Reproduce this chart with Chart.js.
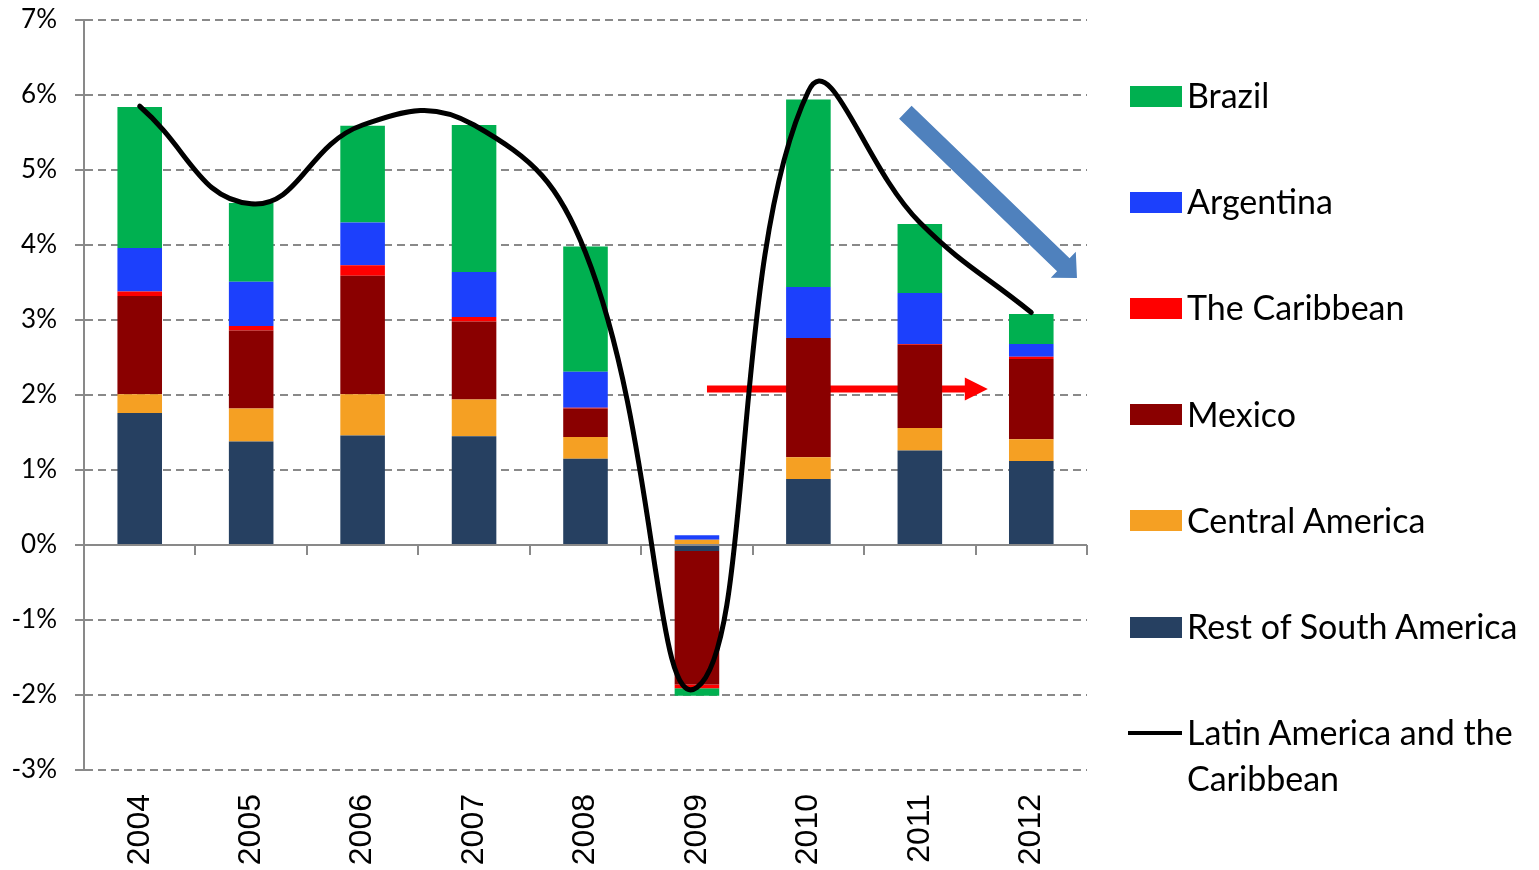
<!DOCTYPE html>
<html>
<head>
<meta charset="utf-8">
<script src="https://cdn.jsdelivr.net/npm/chart.js@4/dist/chart.umd.min.js"></script>
<style>
html,body{margin:0;padding:0;background:#fff;}
#wrap{position:relative;width:1539px;height:870px;overflow:hidden;}
#c{position:absolute;left:0;top:0;}
.lgm{position:absolute;}
.lgt{position:absolute;font-family:Lato,"Open Sans",sans-serif;color:#000;line-height:46px;}
</style>
</head>
<body>
<div id="wrap"><canvas id="c" width="1539" height="870"></canvas><div id="legend"></div></div>
<script>
// ---- data (percent contributions to growth) ----
const years = ['2004','2005','2006','2007','2008','2009','2010','2011','2012'];
const restOfSouthAmerica = [1.76, 1.38, 1.46, 1.45, 1.15, -0.08, 0.88, 1.26, 1.12];
const centralAmerica     = [0.25, 0.44, 0.55, 0.49, 0.29,  0.07, 0.29, 0.30, 0.29];
const mexico             = [1.31, 1.04, 1.58, 1.04, 0.38, -1.78, 1.59, 1.11, 1.07];
const theCaribbean       = [0.06, 0.06, 0.14, 0.06, 0.01, -0.05, 0.00, 0.01, 0.03];
const argentina          = [0.58, 0.59, 0.57, 0.60, 0.48,  0.06, 0.68, 0.68, 0.17];
const brazil             = [1.88, 1.05, 1.29, 1.96, 1.67, -0.10, 2.50, 0.92, 0.40];
const latinAmerica       = [5.85, 4.55, 5.60, 5.60, 3.90, -1.90, 6.05, 4.30, 3.10];
const yTickValues        = [-3, -2, -1, 0, 1, 2, 3, 4, 5, 6, 7];

// annotation arrows, in data coordinates (category index, percent)
const redArrow  = {from: [5.09, 2.08], to: [7.61, 2.08]};
const blueArrow = {from: [6.87, 5.77], to: [8.41, 3.56]};

const C = {
  brazil:'#00b050', argentina:'#1c40fc', caribbean:'#ff0000', mexico:'#8a0000',
  central:'#f5a023', rest:'#264061', grid:'#898989', blueArrow:'#4f81bd', redArrow:'#ff0000'
};

function bar(label, data, color){
  return {type:'bar', label, data, backgroundColor:color, borderWidth:0, order:1,
          categoryPercentage:0.8, barPercentage:0.5};
}

const datasets = [
  bar('Rest of South America', restOfSouthAmerica, C.rest),
  bar('Central America', centralAmerica, C.central),
  bar('Mexico', mexico, C.mexico),
  bar('The Caribbean', theCaribbean, C.caribbean),
  bar('Argentina', argentina, C.argentina),
  bar('Brazil', brazil, C.brazil),
  {type:'line', label:'Latin America and the Caribbean', data:latinAmerica,
   borderColor:'#000', borderWidth:5, pointRadius:0, tension:0.45, fill:false, order:0,
   borderCapStyle:'round', borderJoinStyle:'round'}
];

function drawArrow(ctx, x0, y0, x1, y1, shaft, headW, headL, color){
  const dx = x1-x0, dy = y1-y0, len = Math.hypot(dx,dy);
  const ux = dx/len, uy = dy/len, nx = -uy, ny = ux;
  const bx = x1 - ux*headL, by = y1 - uy*headL;
  ctx.save();
  ctx.fillStyle = color;
  ctx.beginPath();
  ctx.moveTo(x0 + nx*shaft/2, y0 + ny*shaft/2);
  ctx.lineTo(bx + nx*shaft/2, by + ny*shaft/2);
  ctx.lineTo(bx + nx*headW/2, by + ny*headW/2);
  ctx.lineTo(x1, y1);
  ctx.lineTo(bx - nx*headW/2, by - ny*headW/2);
  ctx.lineTo(bx - nx*shaft/2, by - ny*shaft/2);
  ctx.lineTo(x0 - nx*shaft/2, y0 - ny*shaft/2);
  ctx.closePath();
  ctx.fill();
  ctx.restore();
}

const decor = {
  id:'decor',
  beforeDatasetsDraw(chart){
    const {ctx, scales:{x, y}, chartArea:a} = chart;
    // category axis at zero, with tick marks between categories
    const y0 = y.getPixelForValue(0);
    ctx.save();
    ctx.strokeStyle = C.grid; ctx.lineWidth = 2; ctx.setLineDash([]);
    ctx.beginPath(); ctx.moveTo(a.left, y0); ctx.lineTo(a.right, y0); ctx.stroke();
    for (let i = 1; i <= years.length; i++){
      const px = Math.round(x.getPixelForValue(i - 0.5));
      ctx.beginPath(); ctx.moveTo(px, y0); ctx.lineTo(px, y0 + 10); ctx.stroke();
    }
    ctx.restore();
    const p = (v) => [x.getPixelForValue(v[0]), y.getPixelForValue(v[1])];
    const [r0x, r0y] = p(redArrow.from), [r1x, r1y] = p(redArrow.to);
    drawArrow(ctx, r0x, r0y, r1x, r1y, 7, 23, 23, C.redArrow);
    const [b0x, b0y] = p(blueArrow.from), [b1x, b1y] = p(blueArrow.to);
    drawArrow(ctx, b0x, b0y, b1x, b1y, 18, 36, 19, C.blueArrow);
  }
};

const chart = new Chart(document.getElementById('c'), {
  data:{labels:years, datasets},
  options:{
    responsive:false, animation:false,
    layout:{padding:{left:0, top:20, right:452, bottom:0}},
    plugins:{legend:{display:false}, tooltip:{enabled:false}},
    scales:{
      x:{type:'category', stacked:true, offset:true,
         grid:{display:false, drawTicks:false}, border:{display:false},
         ticks:{autoSkip:false, minRotation:90, maxRotation:90, padding:24,
                color:'#000', font:{family:'"Liberation Sans", Arial, sans-serif', size:32}},
         afterFit(s){ s.height = 100; s.paddingLeft = 0; s.paddingRight = 0; }},
      y:{stacked:true, min:-3, max:7,
         afterBuildTicks(s){ s.ticks = yTickValues.map(v => ({value:v})); },
         grid:{color:C.grid, lineWidth:2, tickLength:9, tickColor:C.grid},
         border:{display:true, color:C.grid, width:2, dash:[8,5]},
         ticks:{padding:18, color:'#000', callback:v => v + '%',
                font:{family:'Lato, sans-serif', size:26}},
         afterFit(s){ s.width = 84; s.paddingTop = 0; s.paddingBottom = 0; }}
    }
  },
  plugins:[decor]
});

// ---- HTML legend built from the chart's datasets ----
(function(){
  const order = ['Brazil','Argentina','The Caribbean','Mexico','Central America','Rest of South America','Latin America and the Caribbean'];
  const fam = 'Lato';
  const mc = document.createElement('canvas').getContext('2d');
  mc.font = '100px ' + fam;
  const fontSize = Math.round(100 * 332 / mc.measureText('Rest of South America').width * 10) / 10;
  const lg = document.getElementById('legend');
  order.forEach((name, i) => {
    const ds = chart.data.datasets.find(d => d.label === name);
    const cy = 96 + i * 106.2;
    const m = document.createElement('div');
    m.className = 'lgm';
    if (ds.type === 'line'){
      Object.assign(m.style, {left:'1128px', top:(cy-2)+'px', width:'54px', height:'4px', background:ds.borderColor});
    } else {
      Object.assign(m.style, {left:'1130px', top:(cy-10.5)+'px', width:'52px', height:'21px', background:ds.backgroundColor});
    }
    lg.appendChild(m);
    const t = document.createElement('div');
    t.className = 'lgt';
    t.textContent = name;
    Object.assign(t.style, {left:'1187px', top:(cy-24)+'px', width:'350px', fontSize:fontSize+'px'});
    lg.appendChild(t);
  });
})();
</script>
</body>
</html>
